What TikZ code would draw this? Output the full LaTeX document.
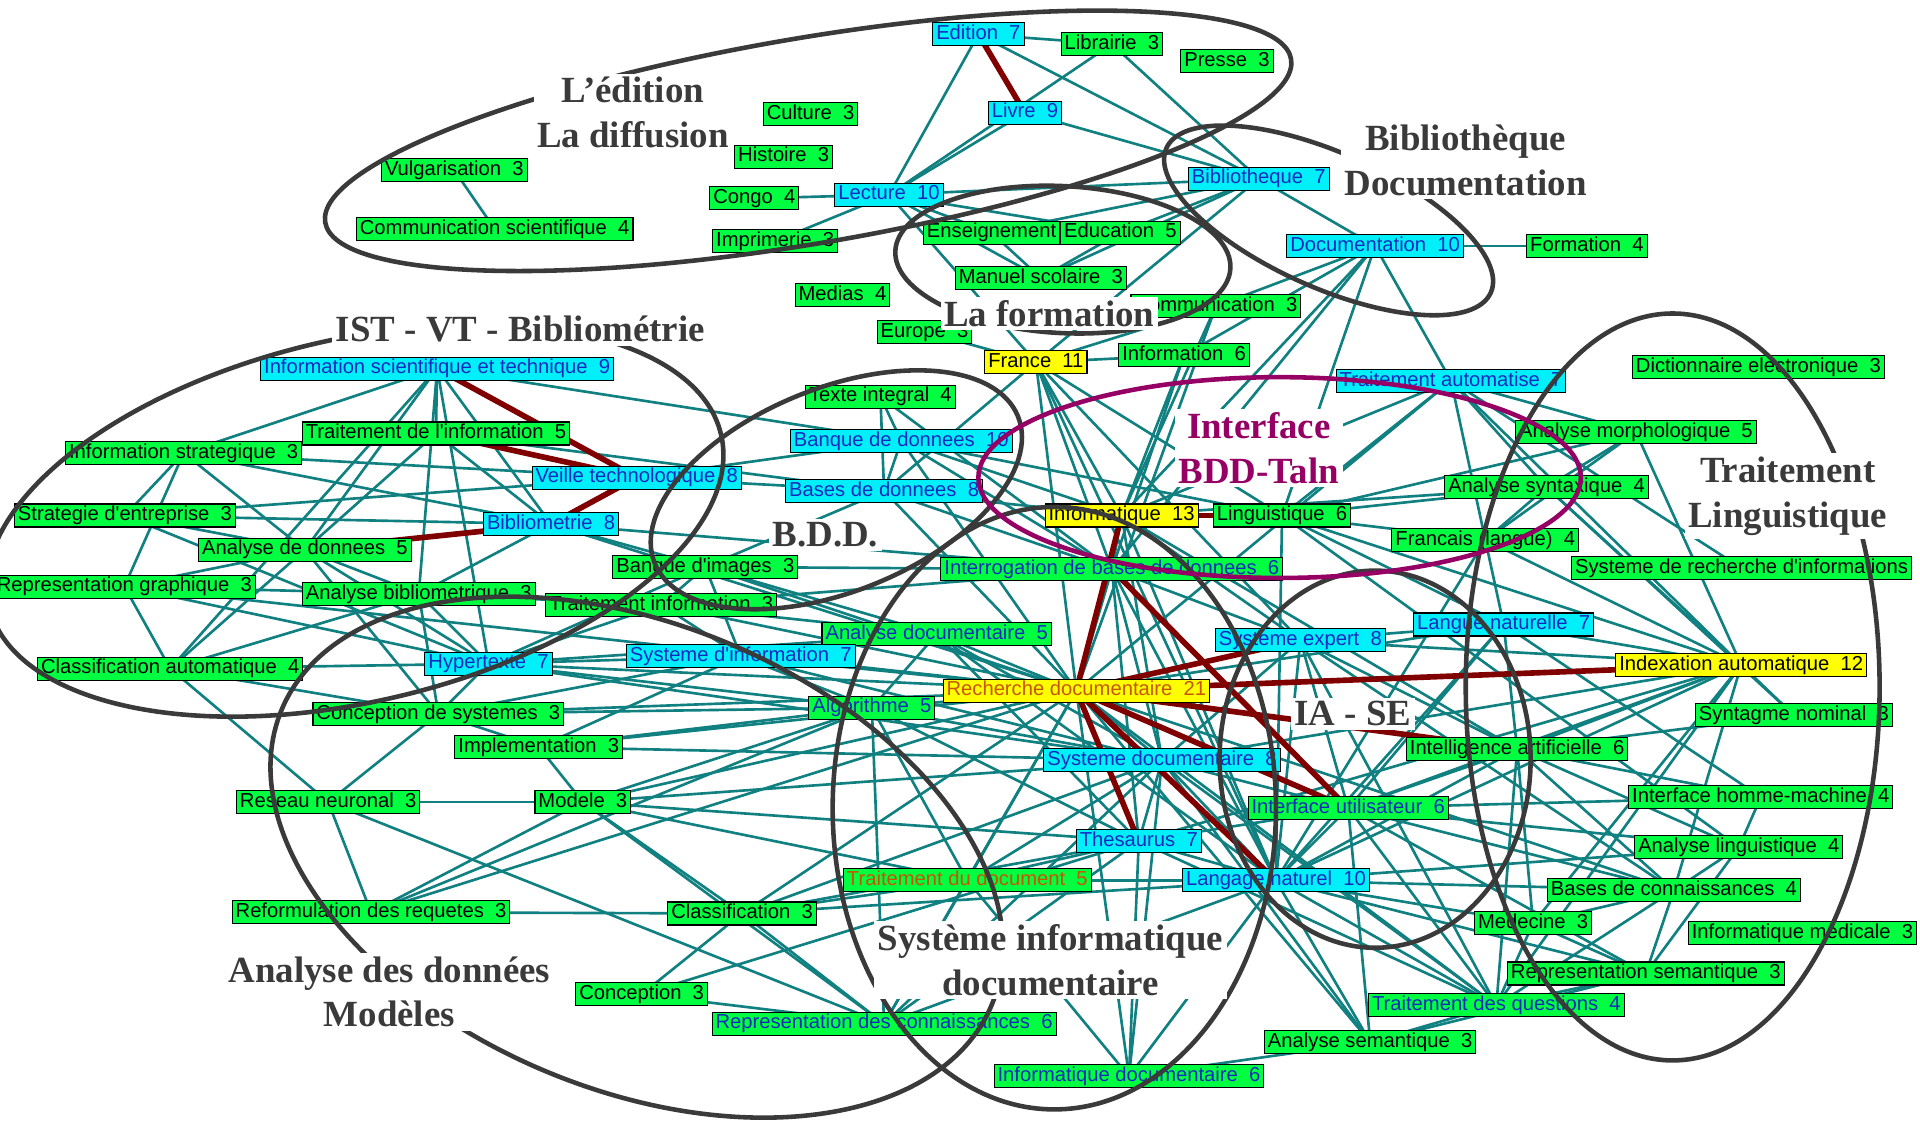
\documentclass[tikz,border=0pt]{standalone}
\usepackage{fontspec}
\setmainfont{Liberation Serif}
\newfontfamily\boxfont{Liberation Sans}
\usetikzlibrary{backgrounds,positioning}

\definecolor{boxgreen}{RGB}{0,255,64}
\definecolor{boxcyan}{RGB}{0,240,250}
\definecolor{boxyellow}{RGB}{255,255,0}
\definecolor{boxblue}{RGB}{20,40,190}
\definecolor{txtorange}{RGB}{200,85,0}
\definecolor{linkteal}{RGB}{16,128,128}
\definecolor{linkred}{RGB}{128,0,0}
\definecolor{ringgray}{RGB}{58,58,58}
\definecolor{tagplum}{RGB}{150,0,100}

\tikzset{
  term/.style={draw=black, line width=0.6pt, inner xsep=2pt, inner ysep=0pt,
    minimum height=4.6mm, text height=8.3pt, text depth=2.4pt,
    font=\boxfont\fontsize{11.5}{12}\selectfont},
  gbox/.style={term, fill=boxgreen, text=black},
  cbox/.style={term, fill=boxcyan, text=boxblue},
  ybox/.style={term, fill=boxyellow, text=black},
  link/.style={draw=linkteal, line width=1.5pt},
  strong/.style={draw=linkred, line width=3.2pt},
  ring/.style={draw=ringgray, line width=2.6pt},
  theme/.style={fill=white, text=ringgray, inner sep=2pt, align=center,
    font=\bfseries\fontsize{21}{25.5}\selectfont}
}

\begin{document}
\begin{tikzpicture}[x=0.2449mm, y=-0.2449mm]
  \useasboundingbox (0,0) rectangle (1568,915);

  % terms
  \node[cbox] (edi) at (799,28) {Edition~~7};
  \node[gbox] (lib) at (908,36) {Librairie~~3};
  \node[gbox] (pre) at (1002,50) {Presse~~3};
  \node[gbox] (cul) at (662,93) {Culture~~3};
  \node[cbox] (liv) at (837,92) {Livre~~9};
  \node[gbox] (his) at (640,128) {Histoire~~3};
  \node[gbox] (vul) at (371,139) {Vulgarisation~~3};
  \node[gbox] (con) at (616,162) {Congo~~4};
  \node[cbox] (lec) at (726,159) {Lecture~~10};
  \node[cbox] (bib) at (1028,146) {Bibliotheque~~7};
  \node[gbox] (coms) at (404,187) {Communication scientifique~~4};
  \node[gbox] (imp) at (633,197) {Imprimerie~~3};
  \node[gbox] (edu) at (915,190) {Education~~5};
  \node[gbox, left=0pt of edu] (ens) {Enseignement};
  \node[cbox] (doc) at (1123,201) {Documentation~~10};
  \node[gbox] (for) at (1296,201) {Formation~~4};
  \node[gbox] (man) at (850,227) {Manuel scolaire~~3};
  \node[gbox] (med) at (688,241) {Medias~~4};
  \node[gbox] (com) at (993,250) {Communication~~3};
  \node[gbox] (eur) at (755,271) {Europe~~3};
  \node[ybox] (fra) at (846,296) {France~~11};
  \node[gbox] (inf) at (967,290) {Information~~6};
  \node[cbox] (ist) at (357,301) {Information scientifique et technique~~9};
  \node[gbox] (dic) at (1436,300) {Dictionnaire electronique~~3};
  \node[cbox] (tra) at (1185,311) {Traitement automatise~~7};
  \node[gbox] (tex) at (719,324) {Texte integral~~4};
  \node[gbox] (tdi) at (356,354) {Traitement de l'information~~5};
  \node[cbox] (bdd) at (736,360) {Banque de donnees~~10};
  \node[gbox] (amo) at (1336,353) {Analyse morphologique~~5};
  \node[gbox] (ins) at (150,370) {Information strategique~~3};
  \node[cbox] (vei) at (520,390) {Veille technologique~~8};
  \node[cbox] (bas) at (722,401) {Bases de donnees~~8};
  \node[gbox] (asy) at (1263,398) {Analyse syntaxique~~4};
  \node[gbox] (str) at (102,421) {Strategie d'entreprise~~3};
  \node[cbox] (bim) at (450,428) {Bibliometrie~~8};
  \node[ybox] (ifq) at (916,421) {Informatique~~13};
  \node[gbox] (lin) at (1047,421) {Linguistique~~6};
  \node[gbox] (frl) at (1213,441) {Francais (langue)~~4};
  \node[gbox] (adn) at (249,449) {Analyse de donnees~~5};
  \node[gbox] (bdi) at (576,463) {Banque d'images~~3};
  \node[gbox, text=boxblue] (itg) at (908,465) {Interrogation de bases de donnees~~6};
  \node[gbox, anchor=west] (sri) at (1283,464) {Systeme de recherche d'informations};
  \node[gbox, anchor=east] (rgr) at (209,479) {Representation graphique~~3};
  \node[gbox] (abi) at (342,485) {Analyse bibliometrique~~3};
  \node[gbox] (tin) at (540,494) {Traitement information~~3};
  \node[cbox] (lan) at (1228,510) {Langue naturelle~~7};
  \node[gbox, text=boxblue] (ado) at (765,518) {Analyse documentaire~~5};
  \node[cbox] (sex) at (1062,523) {Systeme expert~~8};
  \node[gbox] (cla) at (139,546) {Classification automatique~~4};
  \node[cbox] (hyp) at (399,542) {Hypertexte~~7};
  \node[cbox] (sin) at (605,536) {Systeme d'information~~7};
  \node[ybox, text=txtorange] (rdo) at (879,564) {Recherche documentaire~~21};
  \node[ybox] (ind) at (1422,543) {Indexation automatique~~12};
  \node[gbox] (cds) at (358,583) {Conception de systemes~~3};
  \node[gbox, text=boxblue] (alg) at (712,578) {Algorithme~~5};
  \node[gbox] (syn) at (1465,584) {Syntagme nominal~~3};
  \node[gbox] (imt) at (440,610) {Implementation~~3};
  \node[gbox] (ia) at (1239,612) {Intelligence artificielle~~6};
  \node[cbox] (sdo) at (949,621) {Systeme documentaire~~8};
  \node[gbox] (rne) at (268,655) {Reseau neuronal~~3};
  \node[gbox] (mod) at (476,655) {Modele~~3};
  \node[gbox, text=boxblue] (iut) at (1101,660) {Interface utilisateur~~6};
  \node[gbox] (ihm) at (1438,651) {Interface homme-machine~~4};
  \node[cbox] (the) at (930,687) {Thesaurus~~7};
  \node[gbox] (ali) at (1420,692) {Analyse linguistique~~4};
  \node[gbox, text=txtorange] (tdd) at (790,719) {Traitement du document~~5};
  \node[cbox] (lna) at (1042,719) {Langage naturel~~10};
  \node[gbox] (bco) at (1367,727) {Bases de connaissances~~4};
  \node[gbox] (ref) at (303,745) {Reformulation des requetes~~3};
  \node[gbox] (cl3) at (606,746) {Classification~~3};
  \node[gbox] (mde) at (1252,754) {Medecine~~3};
  \node[gbox] (ime) at (1472,762) {Informatique medicale~~3};
  \node[gbox] (rse) at (1344,795) {Representation semantique~~3};
  \node[gbox] (cpt) at (524,812) {Conception~~3};
  \node[gbox, text=boxblue] (tqu) at (1222,821) {Traitement des questions~~4};
  \node[gbox, text=boxblue] (rco) at (722,836) {Representation des connaissances~~6};
  \node[gbox] (ase) at (1119,851) {Analyse semantique~~3};
  \node[gbox, text=boxblue] (ido) at (922,879) {Informatique documentaire~~6};

  % links, behind the terms
  \begin{pgfonlayer}{background}
    \fill[white] (0,0) rectangle (1568,915);
    \draw[link] (edi.center) edge (lib.center) edge (lec.center) edge (bib.center);
    \draw[link] (lib.center) edge (lec.center) edge (bib.center);
    \draw[link] (liv.center) edge (lec.center) edge (bib.center);
    \draw[link] (lec.center) edge (con.center) edge (imp.center) edge (ens.center)
      edge (man.center) edge (bib.center) edge (fra.center) edge (edu.center);
    \draw[link] (vul.center) edge (coms.center);
    \draw[link] (ens.center) edge (man.center) edge (bib.center);
    \draw[link] (edu.center) edge (man.center) edge (bib.center);
    \draw[link] (bib.center) edge (doc.center) edge (man.center) edge (fra.center);
    \draw[link] (doc.center) edge (for.center) edge (com.center) edge (inf.center)
      edge (ifq.center) edge (lin.center) edge (tra.center) edge (itg.center);
    \draw[link] (com.center) edge (fra.center) edge (ifq.center) edge (rdo.center);
    \draw[link] (inf.center) edge (fra.center) edge (ifq.center) edge (itg.center);
    \draw[link] (fra.center) edge (eur.center) edge (ifq.center) edge (itg.center)
      edge (rdo.center) edge (lin.center) edge (sex.center) edge (lna.center)
      edge (bas.center);
    \draw[link] (ist.center) edge (ins.center) edge (tdi.center) edge (adn.center)
      edge (abi.center) edge (bim.center) edge (bdd.center) edge (cla.center)
      edge (hyp.center);
    \draw[link] (tdi.center) edge (ins.center) edge (adn.center) edge (bim.center)
      edge (bas.center);
    \draw[link] (vei.center) edge (ins.center) edge (str.center) edge (bas.center)
      edge (bdd.center);
    \draw[link] (bim.center) edge (ins.center) edge (str.center) edge (abi.center)
      edge (bdi.center) edge (itg.center) edge (rdo.center);
    \draw[link] (ins.center) edge (adn.center) edge (str.center) edge (rgr.center);
    \draw[link] (str.center) edge (adn.center) edge (hyp.center);
    \draw[link] (adn.center) edge (rgr.center) edge (cla.center) edge (abi.center)
      edge (hyp.center) edge (cds.center);
    \draw[link] (rgr.center) edge (cla.center) edge (abi.center) edge (hyp.center)
      edge (rdo.center);
    \draw[link] (abi.center) edge (cla.center) edge (hyp.center) edge (cds.center)
      edge (tin.center);
    \draw[link] (cla.center) edge (hyp.center) edge (cds.center) edge (rne.center);
    \draw[link] (hyp.center) edge (sin.center) edge (cds.center) edge (rdo.center)
      edge (ado.center) edge (alg.center) edge (bdi.center) edge (tin.center)
      edge (sdo.center);
    \draw[link] (tin.center) edge (sin.center) edge (bdi.center) edge (ado.center)
      edge (itg.center) edge (rdo.center);
    \draw[link] (bdi.center) edge (itg.center) edge (rdo.center) edge (ado.center)
      edge (sin.center);
    \draw[link] (sin.center) edge (rdo.center) edge (ado.center) edge (alg.center)
      edge (cds.center) edge (imt.center) edge (sdo.center);
    \draw[link] (cds.center) edge (imt.center) edge (rne.center) edge (alg.center)
      edge (rdo.center);
    \draw[link] (imt.center) edge (alg.center) edge (rdo.center) edge (mod.center)
      edge (sdo.center);
    \draw[link] (tex.center) edge (bdd.center) edge (bas.center) edge (itg.center);
    \draw[link] (bdd.center) edge (bas.center) edge (itg.center) edge (rdo.center)
      edge (ifq.center) edge (lin.center);
    \draw[link] (bas.center) edge (itg.center) edge (rdo.center) edge (ifq.center)
      edge (bdi.center);
    \draw[link] (ifq.center) edge (itg.center) edge (sex.center) edge (ia.center)
      edge (sdo.center) edge (lna.center) edge (asy.center);
    \draw[link] (itg.center) edge (rdo.center) edge (sex.center) edge (sdo.center)
      edge (lna.center) edge (the.center);
    \draw[link] (rdo.center) edge (ado.center) edge (alg.center) edge (sdo.center)
      edge (tdd.center) edge (ido.center) edge (cl3.center) edge (rco.center)
      edge (mod.center) edge (ref.center) edge (tqu.center) edge (ase.center)
      edge (bco.center) edge (lan.center);
    \draw[link] (ado.center) edge (alg.center) edge (sdo.center) edge (the.center)
      edge (lna.center);
    \draw[link] (alg.center) edge (sdo.center) edge (mod.center) edge (tdd.center)
      edge (the.center) edge (rco.center);
    \draw[link] (tra.center) edge (amo.center) edge (asy.center) edge (lin.center)
      edge (frl.center) edge (ind.center) edge (ifq.center) edge (rdo.center)
      edge (sri.center);
    \draw[link] (amo.center) edge (asy.center) edge (lin.center) edge (frl.center)
      edge (ind.center);
    \draw[link] (asy.center) edge (lin.center) edge (ind.center) edge (syn.center)
      edge (frl.center);
    \draw[link] (lin.center) edge (frl.center) edge (ind.center) edge (lna.center)
      edge (lan.center) edge (ali.center);
    \draw[link] (frl.center) edge (ind.center) edge (lna.center) edge (lan.center);
    \draw[link] (ind.center) edge (lan.center) edge (syn.center) edge (ia.center)
      edge (sdo.center) edge (the.center) edge (lna.center) edge (sex.center)
      edge (iut.center) edge (mde.center) edge (bco.center) edge (tqu.center);
    \draw[link] (lan.center) edge (sex.center) edge (ia.center) edge (ihm.center)
      edge (iut.center) edge (lna.center);
    \draw[link] (sex.center) edge (ia.center) edge (iut.center) edge (lna.center)
      edge (sdo.center) edge (bco.center) edge (tqu.center);
    \draw[link] (ia.center) edge (iut.center) edge (lna.center) edge (bco.center)
      edge (tqu.center) edge (ali.center) edge (ihm.center) edge (mde.center)
      edge (syn.center);
    \draw[link] (ihm.center) edge (iut.center) edge (ali.center);
    \draw[link] (iut.center) edge (lna.center) edge (sdo.center) edge (the.center)
      edge (ali.center) edge (bco.center) edge (tqu.center) edge (rse.center)
      edge (ase.center);
    \draw[link] (ali.center) edge (bco.center) edge (rse.center) edge (lna.center);
    \draw[link] (bco.center) edge (lna.center) edge (rse.center) edge (mde.center)
      edge (tqu.center);
    \draw[link] (mde.center) edge (tqu.center) edge (rse.center) edge (lna.center);
    \draw[link] (rse.center) edge (lna.center) edge (tqu.center) edge (ase.center);
    \draw[link] (tqu.center) edge (lna.center) edge (sdo.center) edge (ase.center)
      edge (the.center);
    \draw[link] (ase.center) edge (lna.center) edge (sdo.center) edge (ido.center);
    \draw[link] (rne.center) edge (mod.center) edge (rco.center) edge (ref.center);
    \draw[link] (mod.center) edge (ref.center) edge (cl3.center) edge (rco.center)
      edge (sdo.center) edge (tdd.center) edge (the.center);
    \draw[link] (ref.center) edge (cl3.center) edge (alg.center);
    \draw[link] (cl3.center) edge (tdd.center) edge (cpt.center) edge (rco.center)
      edge (sdo.center) edge (lna.center) edge (the.center);
    \draw[link] (cpt.center) edge (the.center) edge (rco.center);
    \draw[link] (rco.center) edge (sdo.center) edge (lna.center) edge (tdd.center)
      edge (the.center);
    \draw[link] (tdd.center) edge (the.center) edge (lna.center) edge (sdo.center)
      edge (ido.center);
    \draw[link] (sdo.center) edge (the.center) edge (lna.center) edge (ido.center);
    \draw[link] (the.center) edge (lna.center) edge (ido.center);
    \draw[link] (ido.center) edge (lna.center);
    % strong links
    \draw[strong] (edi.center) -- (liv.center);
    \draw[strong] (vei.center) edge (ist.center) edge (tdi.center) edge (bim.center);
    \draw[strong] (bim.center) -- (adn.center);
    \draw[strong] (ifq.center) edge (lin.center) edge (rdo.center);
    \draw[strong] (itg.center) -- (iut.center);
    \draw[strong] (rdo.center) edge (ind.center) edge (sex.center) edge (iut.center)
      edge (the.center) edge (lna.center) edge (ia.center);
  \end{pgfonlayer}

  % groups
  \draw[ring, rotate around={9.6:(660,115)}] (660,115) ellipse [x radius=400, y radius=84];
  \draw[ring, rotate around={13.2:(290,425)}] (290,425) ellipse [x radius=307, y radius=148];
  \draw[ring, rotate around={-24:(1085,180)}] (1085,180) ellipse [x radius=145, y radius=55];
  \draw[ring, rotate around={-3:(868,212)}] (868,212) ellipse [x radius=137, y radius=60];
  \draw[ring, rotate around={22:(683,400)}] (683,400) ellipse [x radius=160, y radius=83];
  \draw[ring] (1366,561) ellipse [x radius=169, y radius=305];
  \draw[ring] (1123,620) ellipse [x radius=127, y radius=154];
  \draw[ring] (861,660) ellipse [x radius=181, y radius=246];
  \draw[ring, rotate around={-22.5:(520,700)}] (520,700) ellipse [x radius=314, y radius=190];
  \draw[ring, draw=tagplum] (1045,390) ellipse [x radius=246, y radius=82];

  % group names
  \node[theme] (tedi) at (517,92) {L'édition\\La diffusion};
  \node[theme] (tist) at (425,269) {IST - VT - Bibliométrie};
  \node[theme] (tbib) at (1197,131) {Bibliothèque\\Documentation};
  \node[theme] (tfor) at (857,256) {La formation};
  \node[theme, text=tagplum] (tint) at (1028,366) {Interface\\BDD-Taln};
  \node[theme] (tlin) at (1460,405) {Traitement\\Linguistique};
  \node[theme] (tbdd) at (674,437) {B.D.D.};
  \node[theme] (tia) at (1105,583) {IA - SE};
  \node[theme] (tsys) at (858,784) {Système informatique\\documentaire};
  \node[theme] (tana) at (318,810) {Analyse des données\\Modèles};
\end{tikzpicture}
\end{document}
